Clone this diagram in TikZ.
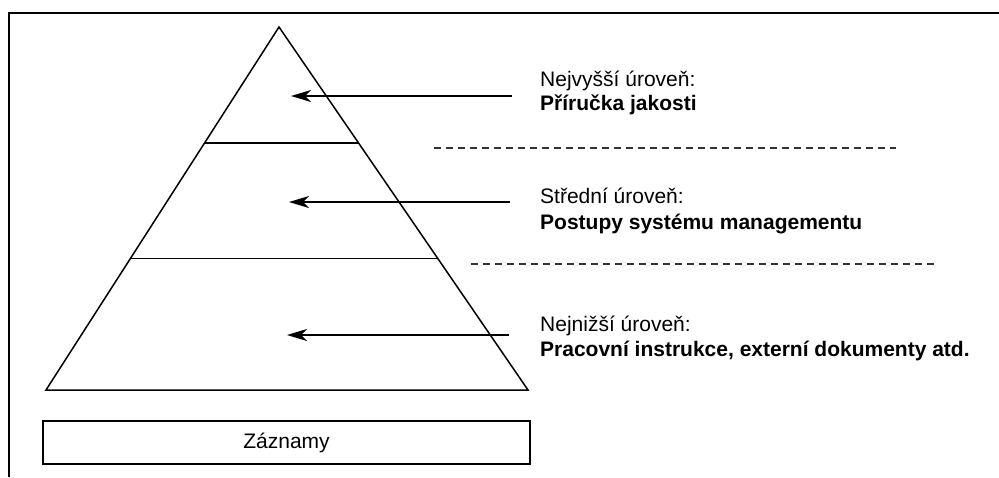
\documentclass[tikz,border=0pt]{standalone}
\usepackage{fontspec}
\setmainfont{Liberation Sans}
\usetikzlibrary{arrows.meta,calc}
\begin{document}
\begin{tikzpicture}[x=1pt,y=-1pt,
  frameline/.style={line width=2pt,black},
  pyr/.style={line width=1.5pt,black,line join=miter},
  levelline/.style={line width=1.5pt,black},
  sepline/.style={line width=1.3pt,black!80,dash pattern=on 7pt off 5pt},
  pointer/.style={line width=1.5pt,black,-{Stealth[length=20pt,width=12pt,inset=6pt]}},
  lbl/.style={anchor=base west,inner sep=0pt,font=\fontsize{21}{24}\selectfont},
  lblb/.style={lbl,font=\fontsize{21}{24}\selectfont\bfseries},
  recbox/.style={draw,line width=1.5pt,minimum width=487pt,minimum height=43pt,inner sep=0pt,font=\fontsize{21}{24}\selectfont}
]
\useasboundingbox (0,0) rectangle (999,477);
% frame (top and left edges only, as in the reference)
\coordinate (fl) at (9,477);
\coordinate (ft) at (9,13);
\coordinate (fr) at (999,13);
\draw[frameline] (fl) -- (ft) -- (fr);
% pyramid
\coordinate (apex) at (279,27);
\coordinate (bl) at (46,390);
\coordinate (br) at (528,390);
\draw[pyr] (apex) -- (bl) -- (br) -- cycle;
\coordinate (l1a) at ($(apex)!0.32!(bl)$);
\coordinate (l1b) at ($(apex)!0.32!(br)$);
\coordinate (l2a) at ($(apex)!0.638!(bl)$);
\coordinate (l2b) at ($(apex)!0.638!(br)$);
\draw[levelline] (l1a) -- (l1b);
\draw[levelline] (l2a) -- (l2b);
% dashed separators
\coordinate (d1a) at (434,148);
\coordinate (d1b) at (896,148);
\coordinate (d2a) at (471,264);
\coordinate (d2b) at (936,264);
\draw[sepline] (d1a) -- (d1b);
\draw[sepline] (d2a) -- (d2b);
% arrows
\coordinate (a1s) at (512,96);
\coordinate (a1t) at (291,96);
\coordinate (a2s) at (510,202);
\coordinate (a2t) at (289,202);
\coordinate (a3s) at (509,335);
\coordinate (a3t) at (287,335);
\draw[pointer] (a1s) -- (a1t);
\draw[pointer] (a2s) -- (a2t);
\draw[pointer] (a3s) -- (a3t);
% labels
\node[lbl]  (t1a) at (540,86)  {Nejvyšší úroveň:};
\node[lblb] (t1b) at (540,110) {Příručka jakosti};
\node[lbl]  (t2a) at (540,203) {Střední úroveň:};
\node[lblb] (t2b) at (540,229) {Postupy systému managementu};
\node[lbl]  (t3a) at (540,331) {Nejnižší úroveň:};
\node[lblb] (t3b) at (540,356) {Pracovní instrukce, externí dokumenty atd.};
% records box
\node[recbox] (rec) at (286.5,442.5) {Záznamy};
\end{tikzpicture}
\end{document}
